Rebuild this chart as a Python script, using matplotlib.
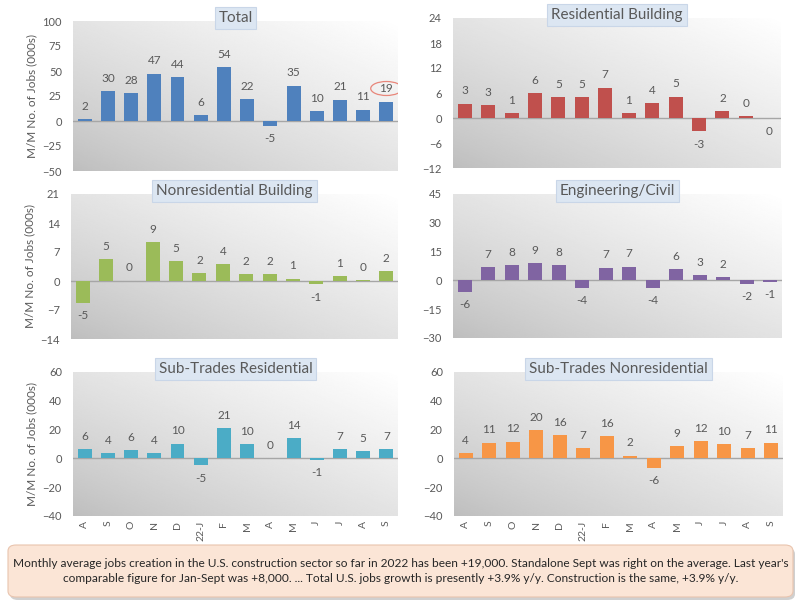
import numpy as np
import matplotlib
matplotlib.use("Agg")
import matplotlib.pyplot as plt
from matplotlib.patches import FancyBboxPatch, Ellipse

plt.rcParams['font.family'] = ['Lato', 'DejaVu Sans']

# months (Aug 2021 .. Sep 2022)
months = ['A', 'S', 'O', 'N', 'D', '22-J', 'F', 'M', 'A', 'M', 'J', 'J', 'A', 'S']

# monthly change in jobs (000s)
total = [2, 30, 28, 47, 44, 6, 54, 22, -5, 35, 10, 21, 11, 19]
residential = [3.4, 3.1, 1.2, 6.0, 5.0, 5.0, 7.3, 1.1, 3.6, 5.1, -3.2, 1.6, 0.4, -0.1]
nonresidential = [-5.3, 5.3, 0.1, 9.3, 4.8, 1.9, 4.0, 1.6, 1.6, 0.6, -0.8, 1.2, 0.3, 2.3]
engineering = [-6.0, 7.0, 8.0, 9.0, 8.0, -4.0, 6.7, 7.2, -3.8, 6.0, 2.8, 1.6, -2.0, -0.6]
subtrades_res = [6.3, 3.6, 6.0, 3.8, 10.3, -4.8, 20.8, 9.7, 0.4, 14.0, -0.9, 6.6, 5.0, 6.6]
subtrades_nonres = [3.8, 11.0, 11.6, 19.7, 16.0, 7.0, 15.6, 2.0, -6.4, 8.8, 12.0, 10.0, 7.0, 11.0]

panels = [
    ('Total', total, '#4f81bd', (-50, 100, 25)),
    ('Residential Building', residential, '#c0504d', (-12, 24, 6)),
    ('Nonresidential Building', nonresidential, '#9bbb59', (-14, 21, 7)),
    ('Engineering/Civil', engineering, '#8064a2', (-30, 45, 15)),
    ('Sub-Trades Residential', subtrades_res, '#4bacc6', (-40, 60, 20)),
    ('Sub-Trades Nonresidential', subtrades_nonres, '#f79646', (-40, 60, 20)),
]

note = ("Monthly average jobs creation in the U.S. construction sector so far in 2022 has been +19,000. "
        "Standalone Sept was right on the average. Last year's\ncomparable figure for Jan-Sept was +8,000. ... "
        "Total U.S. jobs growth is presently +3.9% y/y. Construction is the same, +3.9% y/y.")

# axes rectangles in pixels: left, top, right, bottom
rects = [(73, 21, 398, 171), (453, 18, 781, 168),
         (71, 194, 398, 339), (453, 194, 782, 338),
         (73, 372, 398, 516), (454, 372, 783, 516)]

W, H = 800, 605
fig = plt.figure(figsize=(8, 6.05), dpi=100)
txt = '#595959'

# gradient for plot area background
gx, gy = np.meshgrid(np.linspace(0, 1, 200), np.linspace(0, 1, 200))
grad = 0.74 + 0.26 * np.clip((gx + (1 - gy)) / 2, 0, 1) ** 0.8

for i, ((title, vals, color, (lo, hi, step)), (l, t, r, b)) in enumerate(zip(panels, rects)):
    ax = fig.add_axes([l / W, 1 - b / H, (r - l) / W, (b - t) / H])
    ax.imshow(grad, extent=[0, 1, 0, 1], transform=ax.transAxes, cmap='gray',
              vmin=0, vmax=1, aspect='auto', zorder=0, interpolation='bilinear')
    x = np.arange(len(vals))
    ax.bar(x, vals, width=0.6, color=color, zorder=2)
    ax.axhline(0, color='#a6a6a6', lw=1, zorder=1)
    span = hi - lo
    for xi, v in zip(x, vals):
        off = 0.05 * span
        y = v + off if v >= 0 else v - off
        ax.text(xi, y, f"{round(v)}", ha='center', va='bottom' if v >= 0 else 'top',
                fontsize=8.5, color=txt, zorder=3)
    ax.set_xlim(-0.5, len(vals) - 0.5)
    ax.set_ylim(lo, hi)
    ax.set_yticks(np.arange(lo, hi + step / 2, step))
    ax.tick_params(axis='y', length=0, labelsize=8, colors=txt, pad=8)
    ax.tick_params(axis='x', length=0)
    if i >= 4:
        ax.set_xticks(x)
        ax.set_xticklabels(months, rotation=90, fontsize=7.5, color=txt)
    else:
        ax.set_xticks([])
    if i % 2 == 0:
        ax.set_ylabel('M/M No. of Jobs (000s)', fontsize=8.5, color=txt, labelpad=4)
    for s in ax.spines.values():
        s.set_visible(False)
    ax.text(0.5, 1.02, title, transform=ax.transAxes, ha='center', va='center',
            fontsize=11, color=txt, zorder=5,
            bbox=dict(boxstyle='square,pad=0.25', facecolor='#dce6f2', edgecolor='#c9d6e8', lw=0.8))
    if title == 'Total':
        ax.add_patch(Ellipse((13, 19 + 0.05 * span + 6), 1.35, 14, fill=False,
                             edgecolor='#e8867a', lw=0.9, zorder=4))

# note box at the bottom
shadow = FancyBboxPatch((10 / W, 1 - 600 / H), 785 / W, 52 / H, boxstyle='round,pad=0,rounding_size=0.01',
                        transform=fig.transFigure, facecolor='#d0d0d0', edgecolor='none', zorder=0)
fig.patches.append(shadow)
box = FancyBboxPatch((8 / W, 1 - 597 / H), 785 / W, 52 / H, boxstyle='round,pad=0,rounding_size=0.01',
                     transform=fig.transFigure, facecolor='#fbe5d6', edgecolor='#e9c4ae', lw=0.8, zorder=1)
fig.patches.append(box)
fig.text(400.5 / W, 1 - 571 / H, note, ha='center', va='center', fontsize=8.6,
         color='#262626', linespacing=1.45, zorder=2)

fig.savefig('out.png', dpi=100)
